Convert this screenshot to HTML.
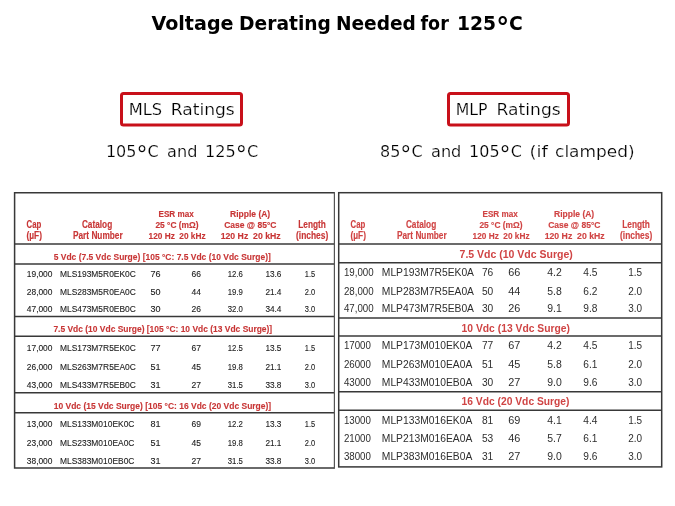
<!DOCTYPE html>
<html><head><meta charset="utf-8"><title>Voltage Derating Needed for 125°C</title>
<style>
html,body{margin:0;padding:0;background:#fff;}
body{width:675px;height:506px;overflow:hidden;position:relative;}
svg{position:absolute;left:0;top:0;display:block;}
text{white-space:pre;}
</style></head><body>
<svg width="675" height="506" viewBox="0 0 675 506">
<defs><filter id="soft" x="-5%" y="-5%" width="110%" height="110%"><feGaussianBlur stdDeviation="0.35"/></filter></defs>
<rect x="0" y="0" width="675" height="506" fill="#fff"/>
<!-- red boxes -->
<rect x="121.5" y="93.5" width="120" height="31.5" rx="2" ry="2" fill="none" stroke="#c8101a" stroke-width="3"/>
<rect x="448.5" y="93.5" width="120" height="31.5" rx="2" ry="2" fill="none" stroke="#c8101a" stroke-width="3"/>
<g filter="url(#soft)">
<!-- left table -->
<g stroke="#383838" stroke-width="1.5" fill="none">
<path d="M334.4 192.7 H14.6 V468 H334.4"/>
<line x1="14.6" y1="244" x2="334.4" y2="244"/>
<line x1="14.6" y1="264" x2="334.4" y2="264"/>
<line x1="14.6" y1="316.4" x2="334.4" y2="316.4"/>
<line x1="14.6" y1="336.2" x2="334.4" y2="336.2"/>
<line x1="14.6" y1="392.8" x2="334.4" y2="392.8"/>
<line x1="14.6" y1="412.8" x2="334.4" y2="412.8"/>
</g>
<line x1="334.4" y1="192" x2="334.4" y2="468.7" stroke="#555" stroke-width="1.2"/>
<g stroke="#383838" stroke-width="1.5" fill="none">
<rect x="338.7" y="192.7" width="323" height="274.2"/>
<line x1="338.7" y1="244" x2="661.7" y2="244"/>
<line x1="338.7" y1="262.8" x2="661.7" y2="262.8"/>
<line x1="338.7" y1="318.1" x2="661.7" y2="318.1"/>
<line x1="338.7" y1="336" x2="661.7" y2="336"/>
<line x1="338.7" y1="391.7" x2="661.7" y2="391.7"/>
<line x1="338.7" y1="410.2" x2="661.7" y2="410.2"/>
</g>
</g>

<text x="151.40" y="29.60" textLength="82.15" lengthAdjust="spacingAndGlyphs" style='font:bold 18.8px "DejaVu Sans", "Liberation Sans", sans-serif;fill:#000'>Voltage</text>
<text x="239.11" y="29.60" textLength="91.83" lengthAdjust="spacingAndGlyphs" style='font:bold 18.8px "DejaVu Sans", "Liberation Sans", sans-serif;fill:#000'>Derating</text>
<text x="335.91" y="29.60" textLength="80.02" lengthAdjust="spacingAndGlyphs" style='font:bold 18.8px "DejaVu Sans", "Liberation Sans", sans-serif;fill:#000'>Needed</text>
<text x="420.50" y="29.60" textLength="28.31" lengthAdjust="spacingAndGlyphs" style='font:bold 18.8px "DejaVu Sans", "Liberation Sans", sans-serif;fill:#000'>for</text>
<text x="457.00" y="29.60" textLength="65.88" lengthAdjust="spacingAndGlyphs" style='font:bold 18.8px "DejaVu Sans", "Liberation Sans", sans-serif;fill:#000'>125<tspan dy="6.77" style="font-size:25.94px">°</tspan><tspan dy="-6.77">C</tspan></text>
<text x="128.69" y="114.80" textLength="33.48" lengthAdjust="spacingAndGlyphs" style='font:normal 16.2px "DejaVu Sans", "Liberation Sans", sans-serif;fill:#000;stroke:#fff;stroke-width:0.2'>MLS</text>
<text x="170.74" y="114.80" textLength="64.01" lengthAdjust="spacingAndGlyphs" style='font:normal 16.2px "DejaVu Sans", "Liberation Sans", sans-serif;fill:#000;stroke:#fff;stroke-width:0.2'>Ratings</text>
<text x="455.63" y="114.80" textLength="31.84" lengthAdjust="spacingAndGlyphs" style='font:normal 16.2px "DejaVu Sans", "Liberation Sans", sans-serif;fill:#000;stroke:#fff;stroke-width:0.2'>MLP</text>
<text x="496.64" y="114.80" textLength="64.01" lengthAdjust="spacingAndGlyphs" style='font:normal 16.2px "DejaVu Sans", "Liberation Sans", sans-serif;fill:#000;stroke:#fff;stroke-width:0.2'>Ratings</text>
<text x="105.91" y="156.90" textLength="52.79" lengthAdjust="spacingAndGlyphs" style='font:normal 16.2px "DejaVu Sans", "Liberation Sans", sans-serif;fill:#000;stroke:#fff;stroke-width:0.2'>105<tspan dy="5.02" style="font-size:22.36px">°</tspan><tspan dy="-5.02">C</tspan></text>
<text x="167.10" y="156.90" textLength="30.27" lengthAdjust="spacingAndGlyphs" style='font:normal 16.2px "DejaVu Sans", "Liberation Sans", sans-serif;fill:#000;stroke:#fff;stroke-width:0.2'>and</text>
<text x="205.11" y="156.90" textLength="53.10" lengthAdjust="spacingAndGlyphs" style='font:normal 16.2px "DejaVu Sans", "Liberation Sans", sans-serif;fill:#000;stroke:#fff;stroke-width:0.2'>125<tspan dy="5.02" style="font-size:22.36px">°</tspan><tspan dy="-5.02">C</tspan></text>
<text x="380.01" y="156.90" textLength="42.59" lengthAdjust="spacingAndGlyphs" style='font:normal 16.2px "DejaVu Sans", "Liberation Sans", sans-serif;fill:#000;stroke:#fff;stroke-width:0.2'>85<tspan dy="5.02" style="font-size:22.36px">°</tspan><tspan dy="-5.02">C</tspan></text>
<text x="431.00" y="156.90" textLength="30.37" lengthAdjust="spacingAndGlyphs" style='font:normal 16.2px "DejaVu Sans", "Liberation Sans", sans-serif;fill:#000;stroke:#fff;stroke-width:0.2'>and</text>
<text x="469.11" y="156.90" textLength="52.69" lengthAdjust="spacingAndGlyphs" style='font:normal 16.2px "DejaVu Sans", "Liberation Sans", sans-serif;fill:#000;stroke:#fff;stroke-width:0.2'>105<tspan dy="5.02" style="font-size:22.36px">°</tspan><tspan dy="-5.02">C</tspan></text>
<text x="529.59" y="156.90" textLength="18.27" lengthAdjust="spacingAndGlyphs" style='font:normal 16.2px "DejaVu Sans", "Liberation Sans", sans-serif;fill:#000;stroke:#fff;stroke-width:0.2'>(if</text>
<text x="555.10" y="156.90" textLength="79.48" lengthAdjust="spacingAndGlyphs" style='font:normal 16.2px "DejaVu Sans", "Liberation Sans", sans-serif;fill:#000;stroke:#fff;stroke-width:0.2'>clamped)</text>
<g filter="url(#soft)">
<text x="26.50" y="227.50" textLength="14.78" lengthAdjust="spacingAndGlyphs" style='font:bold 10.0px "Liberation Sans", Arial, sans-serif;fill:#c83636;stroke:#c83636;stroke-width:0.15'>Cap</text>
<text x="26.50" y="238.90" textLength="15.48" lengthAdjust="spacingAndGlyphs" style='font:bold 10.0px "Liberation Sans", Arial, sans-serif;fill:#c83636;stroke:#c83636;stroke-width:0.15'>(µF)</text>
<text x="81.90" y="227.50" textLength="30.29" lengthAdjust="spacingAndGlyphs" style='font:bold 10.0px "Liberation Sans", Arial, sans-serif;fill:#c83636;stroke:#c83636;stroke-width:0.15'>Catalog</text>
<text x="73.00" y="238.90" textLength="49.61" lengthAdjust="spacingAndGlyphs" style='font:bold 10.0px "Liberation Sans", Arial, sans-serif;fill:#c83636;stroke:#c83636;stroke-width:0.15'>Part Number</text>
<text x="158.50" y="216.90" textLength="35.29" lengthAdjust="spacingAndGlyphs" style='font:bold 9.7px "Liberation Sans", Arial, sans-serif;fill:#c83636;stroke:#c83636;stroke-width:0.15'>ESR max</text>
<text x="155.40" y="227.50" textLength="43.20" lengthAdjust="spacingAndGlyphs" style='font:bold 9.7px "Liberation Sans", Arial, sans-serif;fill:#c83636;stroke:#c83636;stroke-width:0.15'>25 °C (mΩ)</text>
<text x="148.60" y="238.90" textLength="56.97" lengthAdjust="spacingAndGlyphs" style='font:bold 9.7px "Liberation Sans", Arial, sans-serif;fill:#c83636;stroke:#c83636;stroke-width:0.15'>120 Hz  20 kHz</text>
<text x="230.00" y="216.90" textLength="40.20" lengthAdjust="spacingAndGlyphs" style='font:bold 9.7px "Liberation Sans", Arial, sans-serif;fill:#c83636;stroke:#c83636;stroke-width:0.15'>Ripple (A)</text>
<text x="224.20" y="227.50" textLength="52.30" lengthAdjust="spacingAndGlyphs" style='font:bold 9.7px "Liberation Sans", Arial, sans-serif;fill:#c83636;stroke:#c83636;stroke-width:0.15'>Case @ 85°C</text>
<text x="220.70" y="238.90" textLength="59.96" lengthAdjust="spacingAndGlyphs" style='font:bold 9.7px "Liberation Sans", Arial, sans-serif;fill:#c83636;stroke:#c83636;stroke-width:0.15'>120 Hz  20 kHz</text>
<text x="298.20" y="227.50" textLength="27.69" lengthAdjust="spacingAndGlyphs" style='font:bold 10.0px "Liberation Sans", Arial, sans-serif;fill:#c83636;stroke:#c83636;stroke-width:0.15'>Length</text>
<text x="296.00" y="238.90" textLength="32.28" lengthAdjust="spacingAndGlyphs" style='font:bold 10.0px "Liberation Sans", Arial, sans-serif;fill:#c83636;stroke:#c83636;stroke-width:0.15'>(inches)</text>
<text x="350.50" y="227.50" textLength="14.78" lengthAdjust="spacingAndGlyphs" style='font:bold 10.0px "Liberation Sans", Arial, sans-serif;fill:#d04444;stroke:#d04444;stroke-width:0.15'>Cap</text>
<text x="350.50" y="238.90" textLength="15.48" lengthAdjust="spacingAndGlyphs" style='font:bold 10.0px "Liberation Sans", Arial, sans-serif;fill:#d04444;stroke:#d04444;stroke-width:0.15'>(µF)</text>
<text x="405.90" y="227.50" textLength="30.29" lengthAdjust="spacingAndGlyphs" style='font:bold 10.0px "Liberation Sans", Arial, sans-serif;fill:#d04444;stroke:#d04444;stroke-width:0.15'>Catalog</text>
<text x="397.00" y="238.90" textLength="49.61" lengthAdjust="spacingAndGlyphs" style='font:bold 10.0px "Liberation Sans", Arial, sans-serif;fill:#d04444;stroke:#d04444;stroke-width:0.15'>Part Number</text>
<text x="482.50" y="216.90" textLength="35.29" lengthAdjust="spacingAndGlyphs" style='font:bold 9.7px "Liberation Sans", Arial, sans-serif;fill:#d04444;stroke:#d04444;stroke-width:0.15'>ESR max</text>
<text x="479.40" y="227.50" textLength="43.20" lengthAdjust="spacingAndGlyphs" style='font:bold 9.7px "Liberation Sans", Arial, sans-serif;fill:#d04444;stroke:#d04444;stroke-width:0.15'>25 °C (mΩ)</text>
<text x="472.60" y="238.90" textLength="56.97" lengthAdjust="spacingAndGlyphs" style='font:bold 9.7px "Liberation Sans", Arial, sans-serif;fill:#d04444;stroke:#d04444;stroke-width:0.15'>120 Hz  20 kHz</text>
<text x="554.00" y="216.90" textLength="40.20" lengthAdjust="spacingAndGlyphs" style='font:bold 9.7px "Liberation Sans", Arial, sans-serif;fill:#d04444;stroke:#d04444;stroke-width:0.15'>Ripple (A)</text>
<text x="548.20" y="227.50" textLength="52.30" lengthAdjust="spacingAndGlyphs" style='font:bold 9.7px "Liberation Sans", Arial, sans-serif;fill:#d04444;stroke:#d04444;stroke-width:0.15'>Case @ 85°C</text>
<text x="544.70" y="238.90" textLength="59.96" lengthAdjust="spacingAndGlyphs" style='font:bold 9.7px "Liberation Sans", Arial, sans-serif;fill:#d04444;stroke:#d04444;stroke-width:0.15'>120 Hz  20 kHz</text>
<text x="622.20" y="227.50" textLength="27.69" lengthAdjust="spacingAndGlyphs" style='font:bold 10.0px "Liberation Sans", Arial, sans-serif;fill:#d04444;stroke:#d04444;stroke-width:0.15'>Length</text>
<text x="620.00" y="238.90" textLength="32.28" lengthAdjust="spacingAndGlyphs" style='font:bold 10.0px "Liberation Sans", Arial, sans-serif;fill:#d04444;stroke:#d04444;stroke-width:0.15'>(inches)</text>
<text x="53.70" y="259.80" textLength="217.10" lengthAdjust="spacingAndGlyphs" style='font:bold 9.7px "Liberation Sans", Arial, sans-serif;fill:#c83636;stroke:#c83636;stroke-width:0.12'>5 Vdc (7.5 Vdc Surge) [105 °C: 7.5 Vdc (10 Vdc Surge)]</text>
<text x="53.40" y="331.80" textLength="218.80" lengthAdjust="spacingAndGlyphs" style='font:bold 9.7px "Liberation Sans", Arial, sans-serif;fill:#c83636;stroke:#c83636;stroke-width:0.12'>7.5 Vdc (10 Vdc Surge) [105 °C: 10 Vdc (13 Vdc Surge)]</text>
<text x="53.70" y="408.60" textLength="217.50" lengthAdjust="spacingAndGlyphs" style='font:bold 9.7px "Liberation Sans", Arial, sans-serif;fill:#c83636;stroke:#c83636;stroke-width:0.12'>10 Vdc (15 Vdc Surge) [105 °C: 16 Vdc (20 Vdc Surge)]</text>
<text x="459.60" y="257.50" textLength="113.20" lengthAdjust="spacingAndGlyphs" style='font:bold 10.5px "Liberation Sans", Arial, sans-serif;fill:#d04444'>7.5 Vdc (10 Vdc Surge)</text>
<text x="461.60" y="332.30" textLength="108.39" lengthAdjust="spacingAndGlyphs" style='font:bold 10.5px "Liberation Sans", Arial, sans-serif;fill:#d04444'>10 Vdc (13 Vdc Surge)</text>
<text x="461.60" y="405.30" textLength="107.89" lengthAdjust="spacingAndGlyphs" style='font:bold 10.5px "Liberation Sans", Arial, sans-serif;fill:#d04444'>16 Vdc (20 Vdc Surge)</text>
<text x="26.80" y="276.80" textLength="25.67" lengthAdjust="spacingAndGlyphs" style='font:normal 9.9px "Liberation Sans", Arial, sans-serif;fill:#222;stroke:#222;stroke-width:0.12'>19,000</text>
<text x="60.00" y="276.80" textLength="75.81" lengthAdjust="spacingAndGlyphs" style='font:normal 9.9px "Liberation Sans", Arial, sans-serif;fill:#222;stroke:#222;stroke-width:0.12'>MLS193M5R0EK0C</text>
<text x="150.50" y="276.80" textLength="10.04" lengthAdjust="spacingAndGlyphs" style='font:normal 9.9px "Liberation Sans", Arial, sans-serif;fill:#222;stroke:#222;stroke-width:0.12'>76</text>
<text x="191.60" y="276.80" textLength="9.46" lengthAdjust="spacingAndGlyphs" style='font:normal 9.9px "Liberation Sans", Arial, sans-serif;fill:#222;stroke:#222;stroke-width:0.12'>66</text>
<text x="227.80" y="276.80" textLength="15.10" lengthAdjust="spacingAndGlyphs" style='font:normal 9.9px "Liberation Sans", Arial, sans-serif;fill:#222;stroke:#222;stroke-width:0.12'>12.6</text>
<text x="265.40" y="276.80" textLength="16.08" lengthAdjust="spacingAndGlyphs" style='font:normal 9.9px "Liberation Sans", Arial, sans-serif;fill:#222;stroke:#222;stroke-width:0.12'>13.6</text>
<text x="304.80" y="276.80" textLength="10.41" lengthAdjust="spacingAndGlyphs" style='font:normal 9.9px "Liberation Sans", Arial, sans-serif;fill:#222;stroke:#222;stroke-width:0.12'>1.5</text>
<text x="26.80" y="294.60" textLength="25.67" lengthAdjust="spacingAndGlyphs" style='font:normal 9.9px "Liberation Sans", Arial, sans-serif;fill:#222;stroke:#222;stroke-width:0.12'>28,000</text>
<text x="60.00" y="294.60" textLength="75.81" lengthAdjust="spacingAndGlyphs" style='font:normal 9.9px "Liberation Sans", Arial, sans-serif;fill:#222;stroke:#222;stroke-width:0.12'>MLS283M5R0EA0C</text>
<text x="150.50" y="294.60" textLength="10.04" lengthAdjust="spacingAndGlyphs" style='font:normal 9.9px "Liberation Sans", Arial, sans-serif;fill:#222;stroke:#222;stroke-width:0.12'>50</text>
<text x="191.60" y="294.60" textLength="9.46" lengthAdjust="spacingAndGlyphs" style='font:normal 9.9px "Liberation Sans", Arial, sans-serif;fill:#222;stroke:#222;stroke-width:0.12'>44</text>
<text x="227.80" y="294.60" textLength="15.10" lengthAdjust="spacingAndGlyphs" style='font:normal 9.9px "Liberation Sans", Arial, sans-serif;fill:#222;stroke:#222;stroke-width:0.12'>19.9</text>
<text x="265.40" y="294.60" textLength="16.08" lengthAdjust="spacingAndGlyphs" style='font:normal 9.9px "Liberation Sans", Arial, sans-serif;fill:#222;stroke:#222;stroke-width:0.12'>21.4</text>
<text x="304.80" y="294.60" textLength="10.41" lengthAdjust="spacingAndGlyphs" style='font:normal 9.9px "Liberation Sans", Arial, sans-serif;fill:#222;stroke:#222;stroke-width:0.12'>2.0</text>
<text x="26.80" y="312.40" textLength="25.67" lengthAdjust="spacingAndGlyphs" style='font:normal 9.9px "Liberation Sans", Arial, sans-serif;fill:#222;stroke:#222;stroke-width:0.12'>47,000</text>
<text x="60.00" y="312.40" textLength="75.81" lengthAdjust="spacingAndGlyphs" style='font:normal 9.9px "Liberation Sans", Arial, sans-serif;fill:#222;stroke:#222;stroke-width:0.12'>MLS473M5R0EB0C</text>
<text x="150.50" y="312.40" textLength="10.04" lengthAdjust="spacingAndGlyphs" style='font:normal 9.9px "Liberation Sans", Arial, sans-serif;fill:#222;stroke:#222;stroke-width:0.12'>30</text>
<text x="191.60" y="312.40" textLength="9.46" lengthAdjust="spacingAndGlyphs" style='font:normal 9.9px "Liberation Sans", Arial, sans-serif;fill:#222;stroke:#222;stroke-width:0.12'>26</text>
<text x="227.80" y="312.40" textLength="15.10" lengthAdjust="spacingAndGlyphs" style='font:normal 9.9px "Liberation Sans", Arial, sans-serif;fill:#222;stroke:#222;stroke-width:0.12'>32.0</text>
<text x="265.40" y="312.40" textLength="16.08" lengthAdjust="spacingAndGlyphs" style='font:normal 9.9px "Liberation Sans", Arial, sans-serif;fill:#222;stroke:#222;stroke-width:0.12'>34.4</text>
<text x="304.80" y="312.40" textLength="10.41" lengthAdjust="spacingAndGlyphs" style='font:normal 9.9px "Liberation Sans", Arial, sans-serif;fill:#222;stroke:#222;stroke-width:0.12'>3.0</text>
<text x="26.80" y="351.00" textLength="25.67" lengthAdjust="spacingAndGlyphs" style='font:normal 9.9px "Liberation Sans", Arial, sans-serif;fill:#222;stroke:#222;stroke-width:0.12'>17,000</text>
<text x="60.00" y="351.00" textLength="75.81" lengthAdjust="spacingAndGlyphs" style='font:normal 9.9px "Liberation Sans", Arial, sans-serif;fill:#222;stroke:#222;stroke-width:0.12'>MLS173M7R5EK0C</text>
<text x="150.50" y="351.00" textLength="10.04" lengthAdjust="spacingAndGlyphs" style='font:normal 9.9px "Liberation Sans", Arial, sans-serif;fill:#222;stroke:#222;stroke-width:0.12'>77</text>
<text x="191.60" y="351.00" textLength="9.46" lengthAdjust="spacingAndGlyphs" style='font:normal 9.9px "Liberation Sans", Arial, sans-serif;fill:#222;stroke:#222;stroke-width:0.12'>67</text>
<text x="227.80" y="351.00" textLength="15.10" lengthAdjust="spacingAndGlyphs" style='font:normal 9.9px "Liberation Sans", Arial, sans-serif;fill:#222;stroke:#222;stroke-width:0.12'>12.5</text>
<text x="265.40" y="351.00" textLength="16.08" lengthAdjust="spacingAndGlyphs" style='font:normal 9.9px "Liberation Sans", Arial, sans-serif;fill:#222;stroke:#222;stroke-width:0.12'>13.5</text>
<text x="304.80" y="351.00" textLength="10.41" lengthAdjust="spacingAndGlyphs" style='font:normal 9.9px "Liberation Sans", Arial, sans-serif;fill:#222;stroke:#222;stroke-width:0.12'>1.5</text>
<text x="26.80" y="370.30" textLength="25.67" lengthAdjust="spacingAndGlyphs" style='font:normal 9.9px "Liberation Sans", Arial, sans-serif;fill:#222;stroke:#222;stroke-width:0.12'>26,000</text>
<text x="60.00" y="370.30" textLength="75.81" lengthAdjust="spacingAndGlyphs" style='font:normal 9.9px "Liberation Sans", Arial, sans-serif;fill:#222;stroke:#222;stroke-width:0.12'>MLS263M7R5EA0C</text>
<text x="150.50" y="370.30" textLength="10.04" lengthAdjust="spacingAndGlyphs" style='font:normal 9.9px "Liberation Sans", Arial, sans-serif;fill:#222;stroke:#222;stroke-width:0.12'>51</text>
<text x="191.60" y="370.30" textLength="9.46" lengthAdjust="spacingAndGlyphs" style='font:normal 9.9px "Liberation Sans", Arial, sans-serif;fill:#222;stroke:#222;stroke-width:0.12'>45</text>
<text x="227.80" y="370.30" textLength="15.10" lengthAdjust="spacingAndGlyphs" style='font:normal 9.9px "Liberation Sans", Arial, sans-serif;fill:#222;stroke:#222;stroke-width:0.12'>19.8</text>
<text x="265.40" y="370.30" textLength="16.08" lengthAdjust="spacingAndGlyphs" style='font:normal 9.9px "Liberation Sans", Arial, sans-serif;fill:#222;stroke:#222;stroke-width:0.12'>21.1</text>
<text x="304.80" y="370.30" textLength="10.41" lengthAdjust="spacingAndGlyphs" style='font:normal 9.9px "Liberation Sans", Arial, sans-serif;fill:#222;stroke:#222;stroke-width:0.12'>2.0</text>
<text x="26.80" y="388.10" textLength="25.67" lengthAdjust="spacingAndGlyphs" style='font:normal 9.9px "Liberation Sans", Arial, sans-serif;fill:#222;stroke:#222;stroke-width:0.12'>43,000</text>
<text x="60.00" y="388.10" textLength="75.81" lengthAdjust="spacingAndGlyphs" style='font:normal 9.9px "Liberation Sans", Arial, sans-serif;fill:#222;stroke:#222;stroke-width:0.12'>MLS433M7R5EB0C</text>
<text x="150.50" y="388.10" textLength="10.04" lengthAdjust="spacingAndGlyphs" style='font:normal 9.9px "Liberation Sans", Arial, sans-serif;fill:#222;stroke:#222;stroke-width:0.12'>31</text>
<text x="191.60" y="388.10" textLength="9.46" lengthAdjust="spacingAndGlyphs" style='font:normal 9.9px "Liberation Sans", Arial, sans-serif;fill:#222;stroke:#222;stroke-width:0.12'>27</text>
<text x="227.80" y="388.10" textLength="15.10" lengthAdjust="spacingAndGlyphs" style='font:normal 9.9px "Liberation Sans", Arial, sans-serif;fill:#222;stroke:#222;stroke-width:0.12'>31.5</text>
<text x="265.40" y="388.10" textLength="16.08" lengthAdjust="spacingAndGlyphs" style='font:normal 9.9px "Liberation Sans", Arial, sans-serif;fill:#222;stroke:#222;stroke-width:0.12'>33.8</text>
<text x="304.80" y="388.10" textLength="10.41" lengthAdjust="spacingAndGlyphs" style='font:normal 9.9px "Liberation Sans", Arial, sans-serif;fill:#222;stroke:#222;stroke-width:0.12'>3.0</text>
<text x="26.80" y="427.20" textLength="25.67" lengthAdjust="spacingAndGlyphs" style='font:normal 9.9px "Liberation Sans", Arial, sans-serif;fill:#222;stroke:#222;stroke-width:0.12'>13,000</text>
<text x="60.00" y="427.20" textLength="74.41" lengthAdjust="spacingAndGlyphs" style='font:normal 9.9px "Liberation Sans", Arial, sans-serif;fill:#222;stroke:#222;stroke-width:0.12'>MLS133M010EK0C</text>
<text x="150.50" y="427.20" textLength="10.04" lengthAdjust="spacingAndGlyphs" style='font:normal 9.9px "Liberation Sans", Arial, sans-serif;fill:#222;stroke:#222;stroke-width:0.12'>81</text>
<text x="191.60" y="427.20" textLength="9.46" lengthAdjust="spacingAndGlyphs" style='font:normal 9.9px "Liberation Sans", Arial, sans-serif;fill:#222;stroke:#222;stroke-width:0.12'>69</text>
<text x="227.80" y="427.20" textLength="15.10" lengthAdjust="spacingAndGlyphs" style='font:normal 9.9px "Liberation Sans", Arial, sans-serif;fill:#222;stroke:#222;stroke-width:0.12'>12.2</text>
<text x="265.40" y="427.20" textLength="16.08" lengthAdjust="spacingAndGlyphs" style='font:normal 9.9px "Liberation Sans", Arial, sans-serif;fill:#222;stroke:#222;stroke-width:0.12'>13.3</text>
<text x="304.80" y="427.20" textLength="10.41" lengthAdjust="spacingAndGlyphs" style='font:normal 9.9px "Liberation Sans", Arial, sans-serif;fill:#222;stroke:#222;stroke-width:0.12'>1.5</text>
<text x="26.80" y="445.50" textLength="25.67" lengthAdjust="spacingAndGlyphs" style='font:normal 9.9px "Liberation Sans", Arial, sans-serif;fill:#222;stroke:#222;stroke-width:0.12'>23,000</text>
<text x="60.00" y="445.50" textLength="74.41" lengthAdjust="spacingAndGlyphs" style='font:normal 9.9px "Liberation Sans", Arial, sans-serif;fill:#222;stroke:#222;stroke-width:0.12'>MLS233M010EA0C</text>
<text x="150.50" y="445.50" textLength="10.04" lengthAdjust="spacingAndGlyphs" style='font:normal 9.9px "Liberation Sans", Arial, sans-serif;fill:#222;stroke:#222;stroke-width:0.12'>51</text>
<text x="191.60" y="445.50" textLength="9.46" lengthAdjust="spacingAndGlyphs" style='font:normal 9.9px "Liberation Sans", Arial, sans-serif;fill:#222;stroke:#222;stroke-width:0.12'>45</text>
<text x="227.80" y="445.50" textLength="15.10" lengthAdjust="spacingAndGlyphs" style='font:normal 9.9px "Liberation Sans", Arial, sans-serif;fill:#222;stroke:#222;stroke-width:0.12'>19.8</text>
<text x="265.40" y="445.50" textLength="16.08" lengthAdjust="spacingAndGlyphs" style='font:normal 9.9px "Liberation Sans", Arial, sans-serif;fill:#222;stroke:#222;stroke-width:0.12'>21.1</text>
<text x="304.80" y="445.50" textLength="10.41" lengthAdjust="spacingAndGlyphs" style='font:normal 9.9px "Liberation Sans", Arial, sans-serif;fill:#222;stroke:#222;stroke-width:0.12'>2.0</text>
<text x="26.80" y="463.60" textLength="25.67" lengthAdjust="spacingAndGlyphs" style='font:normal 9.9px "Liberation Sans", Arial, sans-serif;fill:#222;stroke:#222;stroke-width:0.12'>38,000</text>
<text x="60.00" y="463.60" textLength="74.41" lengthAdjust="spacingAndGlyphs" style='font:normal 9.9px "Liberation Sans", Arial, sans-serif;fill:#222;stroke:#222;stroke-width:0.12'>MLS383M010EB0C</text>
<text x="150.50" y="463.60" textLength="10.04" lengthAdjust="spacingAndGlyphs" style='font:normal 9.9px "Liberation Sans", Arial, sans-serif;fill:#222;stroke:#222;stroke-width:0.12'>31</text>
<text x="191.60" y="463.60" textLength="9.46" lengthAdjust="spacingAndGlyphs" style='font:normal 9.9px "Liberation Sans", Arial, sans-serif;fill:#222;stroke:#222;stroke-width:0.12'>27</text>
<text x="227.80" y="463.60" textLength="15.10" lengthAdjust="spacingAndGlyphs" style='font:normal 9.9px "Liberation Sans", Arial, sans-serif;fill:#222;stroke:#222;stroke-width:0.12'>31.5</text>
<text x="265.40" y="463.60" textLength="16.08" lengthAdjust="spacingAndGlyphs" style='font:normal 9.9px "Liberation Sans", Arial, sans-serif;fill:#222;stroke:#222;stroke-width:0.12'>33.8</text>
<text x="304.80" y="463.60" textLength="10.41" lengthAdjust="spacingAndGlyphs" style='font:normal 9.9px "Liberation Sans", Arial, sans-serif;fill:#222;stroke:#222;stroke-width:0.12'>3.0</text>
<text x="343.90" y="275.90" textLength="29.75" lengthAdjust="spacingAndGlyphs" style='font:normal 10.5px "Liberation Sans", Arial, sans-serif;fill:#2e2e2e'>19,000</text>
<text x="381.80" y="275.90" textLength="92.20" lengthAdjust="spacingAndGlyphs" style='font:normal 10.5px "Liberation Sans", Arial, sans-serif;fill:#2e2e2e'>MLP193M7R5EK0A</text>
<text x="481.90" y="275.90" textLength="11.34" lengthAdjust="spacingAndGlyphs" style='font:normal 10.5px "Liberation Sans", Arial, sans-serif;fill:#2e2e2e'>76</text>
<text x="508.30" y="275.90" textLength="12.13" lengthAdjust="spacingAndGlyphs" style='font:normal 10.5px "Liberation Sans", Arial, sans-serif;fill:#2e2e2e'>66</text>
<text x="547.20" y="275.90" textLength="14.54" lengthAdjust="spacingAndGlyphs" style='font:normal 10.5px "Liberation Sans", Arial, sans-serif;fill:#2e2e2e'>4.2</text>
<text x="583.30" y="275.90" textLength="14.14" lengthAdjust="spacingAndGlyphs" style='font:normal 10.5px "Liberation Sans", Arial, sans-serif;fill:#2e2e2e'>4.5</text>
<text x="628.30" y="275.90" textLength="13.85" lengthAdjust="spacingAndGlyphs" style='font:normal 10.5px "Liberation Sans", Arial, sans-serif;fill:#2e2e2e'>1.5</text>
<text x="343.90" y="294.60" textLength="29.75" lengthAdjust="spacingAndGlyphs" style='font:normal 10.5px "Liberation Sans", Arial, sans-serif;fill:#2e2e2e'>28,000</text>
<text x="381.80" y="294.60" textLength="92.20" lengthAdjust="spacingAndGlyphs" style='font:normal 10.5px "Liberation Sans", Arial, sans-serif;fill:#2e2e2e'>MLP283M7R5EA0A</text>
<text x="481.90" y="294.60" textLength="11.34" lengthAdjust="spacingAndGlyphs" style='font:normal 10.5px "Liberation Sans", Arial, sans-serif;fill:#2e2e2e'>50</text>
<text x="508.30" y="294.60" textLength="12.13" lengthAdjust="spacingAndGlyphs" style='font:normal 10.5px "Liberation Sans", Arial, sans-serif;fill:#2e2e2e'>44</text>
<text x="547.20" y="294.60" textLength="14.54" lengthAdjust="spacingAndGlyphs" style='font:normal 10.5px "Liberation Sans", Arial, sans-serif;fill:#2e2e2e'>5.8</text>
<text x="583.30" y="294.60" textLength="14.14" lengthAdjust="spacingAndGlyphs" style='font:normal 10.5px "Liberation Sans", Arial, sans-serif;fill:#2e2e2e'>6.2</text>
<text x="628.30" y="294.60" textLength="13.85" lengthAdjust="spacingAndGlyphs" style='font:normal 10.5px "Liberation Sans", Arial, sans-serif;fill:#2e2e2e'>2.0</text>
<text x="343.90" y="312.40" textLength="29.75" lengthAdjust="spacingAndGlyphs" style='font:normal 10.5px "Liberation Sans", Arial, sans-serif;fill:#2e2e2e'>47,000</text>
<text x="381.80" y="312.40" textLength="92.20" lengthAdjust="spacingAndGlyphs" style='font:normal 10.5px "Liberation Sans", Arial, sans-serif;fill:#2e2e2e'>MLP473M7R5EB0A</text>
<text x="481.90" y="312.40" textLength="11.34" lengthAdjust="spacingAndGlyphs" style='font:normal 10.5px "Liberation Sans", Arial, sans-serif;fill:#2e2e2e'>30</text>
<text x="508.30" y="312.40" textLength="12.13" lengthAdjust="spacingAndGlyphs" style='font:normal 10.5px "Liberation Sans", Arial, sans-serif;fill:#2e2e2e'>26</text>
<text x="547.20" y="312.40" textLength="14.54" lengthAdjust="spacingAndGlyphs" style='font:normal 10.5px "Liberation Sans", Arial, sans-serif;fill:#2e2e2e'>9.1</text>
<text x="583.30" y="312.40" textLength="14.14" lengthAdjust="spacingAndGlyphs" style='font:normal 10.5px "Liberation Sans", Arial, sans-serif;fill:#2e2e2e'>9.8</text>
<text x="628.30" y="312.40" textLength="13.85" lengthAdjust="spacingAndGlyphs" style='font:normal 10.5px "Liberation Sans", Arial, sans-serif;fill:#2e2e2e'>3.0</text>
<text x="343.90" y="349.00" textLength="27.05" lengthAdjust="spacingAndGlyphs" style='font:normal 10.5px "Liberation Sans", Arial, sans-serif;fill:#2e2e2e'>17000</text>
<text x="381.80" y="349.00" textLength="90.49" lengthAdjust="spacingAndGlyphs" style='font:normal 10.5px "Liberation Sans", Arial, sans-serif;fill:#2e2e2e'>MLP173M010EK0A</text>
<text x="481.90" y="349.00" textLength="11.34" lengthAdjust="spacingAndGlyphs" style='font:normal 10.5px "Liberation Sans", Arial, sans-serif;fill:#2e2e2e'>77</text>
<text x="508.30" y="349.00" textLength="12.13" lengthAdjust="spacingAndGlyphs" style='font:normal 10.5px "Liberation Sans", Arial, sans-serif;fill:#2e2e2e'>67</text>
<text x="547.20" y="349.00" textLength="14.54" lengthAdjust="spacingAndGlyphs" style='font:normal 10.5px "Liberation Sans", Arial, sans-serif;fill:#2e2e2e'>4.2</text>
<text x="583.30" y="349.00" textLength="14.14" lengthAdjust="spacingAndGlyphs" style='font:normal 10.5px "Liberation Sans", Arial, sans-serif;fill:#2e2e2e'>4.5</text>
<text x="628.30" y="349.00" textLength="13.85" lengthAdjust="spacingAndGlyphs" style='font:normal 10.5px "Liberation Sans", Arial, sans-serif;fill:#2e2e2e'>1.5</text>
<text x="343.90" y="367.80" textLength="27.05" lengthAdjust="spacingAndGlyphs" style='font:normal 10.5px "Liberation Sans", Arial, sans-serif;fill:#2e2e2e'>26000</text>
<text x="381.80" y="367.80" textLength="90.49" lengthAdjust="spacingAndGlyphs" style='font:normal 10.5px "Liberation Sans", Arial, sans-serif;fill:#2e2e2e'>MLP263M010EA0A</text>
<text x="481.90" y="367.80" textLength="11.34" lengthAdjust="spacingAndGlyphs" style='font:normal 10.5px "Liberation Sans", Arial, sans-serif;fill:#2e2e2e'>51</text>
<text x="508.30" y="367.80" textLength="12.13" lengthAdjust="spacingAndGlyphs" style='font:normal 10.5px "Liberation Sans", Arial, sans-serif;fill:#2e2e2e'>45</text>
<text x="547.20" y="367.80" textLength="14.54" lengthAdjust="spacingAndGlyphs" style='font:normal 10.5px "Liberation Sans", Arial, sans-serif;fill:#2e2e2e'>5.8</text>
<text x="583.30" y="367.80" textLength="14.14" lengthAdjust="spacingAndGlyphs" style='font:normal 10.5px "Liberation Sans", Arial, sans-serif;fill:#2e2e2e'>6.1</text>
<text x="628.30" y="367.80" textLength="13.85" lengthAdjust="spacingAndGlyphs" style='font:normal 10.5px "Liberation Sans", Arial, sans-serif;fill:#2e2e2e'>2.0</text>
<text x="343.90" y="386.40" textLength="27.05" lengthAdjust="spacingAndGlyphs" style='font:normal 10.5px "Liberation Sans", Arial, sans-serif;fill:#2e2e2e'>43000</text>
<text x="381.80" y="386.40" textLength="90.49" lengthAdjust="spacingAndGlyphs" style='font:normal 10.5px "Liberation Sans", Arial, sans-serif;fill:#2e2e2e'>MLP433M010EB0A</text>
<text x="481.90" y="386.40" textLength="11.34" lengthAdjust="spacingAndGlyphs" style='font:normal 10.5px "Liberation Sans", Arial, sans-serif;fill:#2e2e2e'>30</text>
<text x="508.30" y="386.40" textLength="12.13" lengthAdjust="spacingAndGlyphs" style='font:normal 10.5px "Liberation Sans", Arial, sans-serif;fill:#2e2e2e'>27</text>
<text x="547.20" y="386.40" textLength="14.54" lengthAdjust="spacingAndGlyphs" style='font:normal 10.5px "Liberation Sans", Arial, sans-serif;fill:#2e2e2e'>9.0</text>
<text x="583.30" y="386.40" textLength="14.14" lengthAdjust="spacingAndGlyphs" style='font:normal 10.5px "Liberation Sans", Arial, sans-serif;fill:#2e2e2e'>9.6</text>
<text x="628.30" y="386.40" textLength="13.85" lengthAdjust="spacingAndGlyphs" style='font:normal 10.5px "Liberation Sans", Arial, sans-serif;fill:#2e2e2e'>3.0</text>
<text x="343.90" y="423.70" textLength="27.05" lengthAdjust="spacingAndGlyphs" style='font:normal 10.5px "Liberation Sans", Arial, sans-serif;fill:#2e2e2e'>13000</text>
<text x="381.80" y="423.70" textLength="90.49" lengthAdjust="spacingAndGlyphs" style='font:normal 10.5px "Liberation Sans", Arial, sans-serif;fill:#2e2e2e'>MLP133M016EK0A</text>
<text x="481.90" y="423.70" textLength="11.34" lengthAdjust="spacingAndGlyphs" style='font:normal 10.5px "Liberation Sans", Arial, sans-serif;fill:#2e2e2e'>81</text>
<text x="508.30" y="423.70" textLength="12.13" lengthAdjust="spacingAndGlyphs" style='font:normal 10.5px "Liberation Sans", Arial, sans-serif;fill:#2e2e2e'>69</text>
<text x="547.20" y="423.70" textLength="14.54" lengthAdjust="spacingAndGlyphs" style='font:normal 10.5px "Liberation Sans", Arial, sans-serif;fill:#2e2e2e'>4.1</text>
<text x="583.30" y="423.70" textLength="14.14" lengthAdjust="spacingAndGlyphs" style='font:normal 10.5px "Liberation Sans", Arial, sans-serif;fill:#2e2e2e'>4.4</text>
<text x="628.30" y="423.70" textLength="13.85" lengthAdjust="spacingAndGlyphs" style='font:normal 10.5px "Liberation Sans", Arial, sans-serif;fill:#2e2e2e'>1.5</text>
<text x="343.90" y="441.80" textLength="27.05" lengthAdjust="spacingAndGlyphs" style='font:normal 10.5px "Liberation Sans", Arial, sans-serif;fill:#2e2e2e'>21000</text>
<text x="381.80" y="441.80" textLength="90.49" lengthAdjust="spacingAndGlyphs" style='font:normal 10.5px "Liberation Sans", Arial, sans-serif;fill:#2e2e2e'>MLP213M016EA0A</text>
<text x="481.90" y="441.80" textLength="11.34" lengthAdjust="spacingAndGlyphs" style='font:normal 10.5px "Liberation Sans", Arial, sans-serif;fill:#2e2e2e'>53</text>
<text x="508.30" y="441.80" textLength="12.13" lengthAdjust="spacingAndGlyphs" style='font:normal 10.5px "Liberation Sans", Arial, sans-serif;fill:#2e2e2e'>46</text>
<text x="547.20" y="441.80" textLength="14.54" lengthAdjust="spacingAndGlyphs" style='font:normal 10.5px "Liberation Sans", Arial, sans-serif;fill:#2e2e2e'>5.7</text>
<text x="583.30" y="441.80" textLength="14.14" lengthAdjust="spacingAndGlyphs" style='font:normal 10.5px "Liberation Sans", Arial, sans-serif;fill:#2e2e2e'>6.1</text>
<text x="628.30" y="441.80" textLength="13.85" lengthAdjust="spacingAndGlyphs" style='font:normal 10.5px "Liberation Sans", Arial, sans-serif;fill:#2e2e2e'>2.0</text>
<text x="343.90" y="460.40" textLength="27.05" lengthAdjust="spacingAndGlyphs" style='font:normal 10.5px "Liberation Sans", Arial, sans-serif;fill:#2e2e2e'>38000</text>
<text x="381.80" y="460.40" textLength="90.49" lengthAdjust="spacingAndGlyphs" style='font:normal 10.5px "Liberation Sans", Arial, sans-serif;fill:#2e2e2e'>MLP383M016EB0A</text>
<text x="481.90" y="460.40" textLength="11.34" lengthAdjust="spacingAndGlyphs" style='font:normal 10.5px "Liberation Sans", Arial, sans-serif;fill:#2e2e2e'>31</text>
<text x="508.30" y="460.40" textLength="12.13" lengthAdjust="spacingAndGlyphs" style='font:normal 10.5px "Liberation Sans", Arial, sans-serif;fill:#2e2e2e'>27</text>
<text x="547.20" y="460.40" textLength="14.54" lengthAdjust="spacingAndGlyphs" style='font:normal 10.5px "Liberation Sans", Arial, sans-serif;fill:#2e2e2e'>9.0</text>
<text x="583.30" y="460.40" textLength="14.14" lengthAdjust="spacingAndGlyphs" style='font:normal 10.5px "Liberation Sans", Arial, sans-serif;fill:#2e2e2e'>9.6</text>
<text x="628.30" y="460.40" textLength="13.85" lengthAdjust="spacingAndGlyphs" style='font:normal 10.5px "Liberation Sans", Arial, sans-serif;fill:#2e2e2e'>3.0</text>
</g>
</svg>
</body></html>
